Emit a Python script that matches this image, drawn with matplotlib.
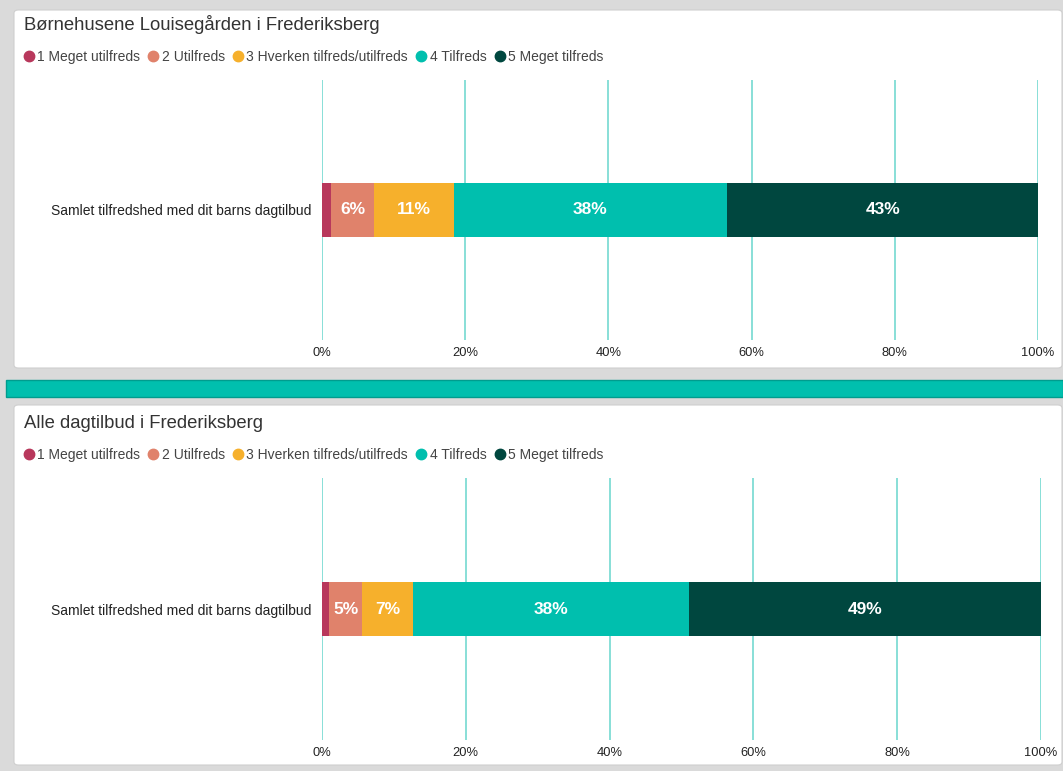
import numpy as np
import matplotlib.pyplot as plt
from matplotlib.patches import FancyBboxPatch, Rectangle
from matplotlib.lines import Line2D

plt.rcParams['font.family'] = ['Liberation Sans', 'DejaVu Sans']

# data
kategorier = ["1 Meget utilfreds", "2 Utilfreds", "3 Hverken tilfreds/utilfreds",
              "4 Tilfreds", "5 Meget tilfreds"]
farver = ["#b8385c", "#e0826b", "#f6b02c", "#00bfae", "#00473f"]
spoergsmaal = "Samlet tilfredshed med dit barns dagtilbud"

titel_top = "Børnehusene Louisegården i Frederiksberg"
vaerdier_top = [1.3, 6.0, 11.1, 38.2, 43.4]

titel_bund = "Alle dagtilbud i Frederiksberg"
vaerdier_bund = [1.0, 4.6, 7.1, 38.4, 48.9]

W, H = 1063, 771
fig = plt.figure(figsize=(W / 100, H / 100), dpi=100)
fig.patch.set_facecolor("#dadada")


def px(x, y):
    return x / W, 1 - y / H


def panel(y0, y1):
    x0, yy0 = px(14, y1)
    x1, yy1 = px(1062, y0)
    p = FancyBboxPatch((x0, yy0), x1 - x0, yy1 - yy0,
                       boxstyle="round,pad=0,rounding_size=0.004",
                       transform=fig.transFigure, facecolor="white",
                       edgecolor="#cfcfcf", linewidth=0.8, zorder=-5)
    fig.patches.append(p)


panel(10, 368)
panel(405, 765)

# teal band between panels
bx, by = px(6, 397)
fig.patches.append(Rectangle((bx, by), 1 - bx, 17 / H, transform=fig.transFigure,
                             facecolor="#00bfae", edgecolor="#009c8e",
                             linewidth=1, zorder=-5))


def tegn(titel, vaerdier, y_top, grid_top, grid_bund, x100):
    tx, ty = px(24, y_top)
    fig.text(tx, ty, titel, fontsize=13.3, color="#333333", va="center")

    # legend
    handles = [Line2D([0], [0], marker="o", linestyle="", markersize=7.5,
                      markerfacecolor=c, markeredgecolor=c) for c in farver]
    lx, ly = px(22, y_top + 32)
    fig.legend(handles, kategorier, loc="center left", bbox_to_anchor=(lx, ly),
               ncol=5, frameon=False, fontsize=10, handletextpad=0.1,
               columnspacing=0.45, handlelength=1.0, borderaxespad=0,
               borderpad=0, labelcolor="#444444")

    left, bottom = px(322, grid_bund)
    right, top = px(x100, grid_top)
    ax = fig.add_axes([left, bottom, right - left, top - bottom])
    ax.set_xlim(0, 100)
    ax.set_ylim(-1, 1)

    start = 0
    for v, c in zip(vaerdier, farver):
        ax.barh(0, v, left=start, height=0.41, color=c, zorder=3)
        if v >= 3:
            ax.text(start + v / 2, 0, f"{round(v)}%", ha="center", va="center",
                    color="white", fontsize=12.5, fontweight="bold", zorder=4)
        start += v

    ax.set_xticks(np.arange(0, 101, 20))
    ax.set_xticklabels([f"{t}%" for t in range(0, 101, 20)])
    ax.set_yticks([0])
    ax.set_yticklabels([spoergsmaal])
    ax.tick_params(axis="x", length=0, labelsize=9.3, colors="#222222", pad=5)
    ax.tick_params(axis="y", length=0, labelsize=10, colors="#222222", pad=8)
    ax.grid(axis="x", color="#7fdcd4", linewidth=1.3, zorder=0)
    for s in ax.spines.values():
        s.set_visible(False)
    ax.patch.set_alpha(0)


tegn(titel_top, vaerdier_top, 25, 80, 340, 1038)
tegn(titel_bund, vaerdier_bund, 423, 478, 740, 1041)

plt.savefig("out.png", dpi=100)
